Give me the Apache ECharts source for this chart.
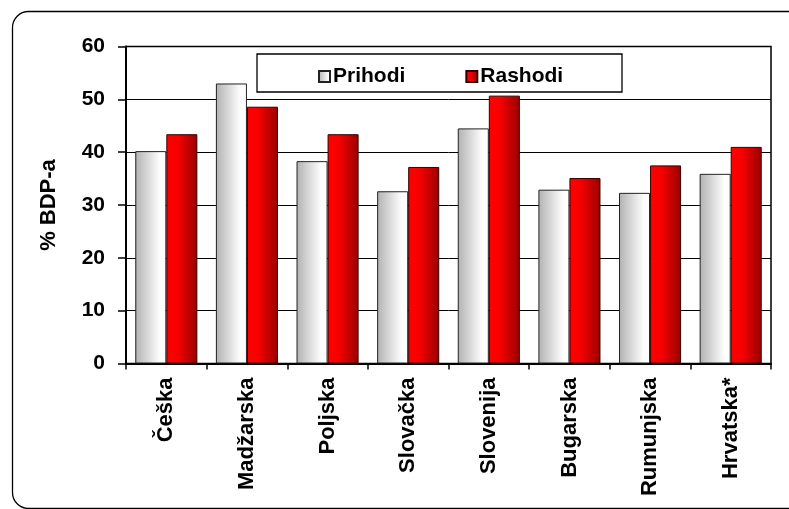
<!DOCTYPE html>
<html><head><meta charset="utf-8">
<script src="https://cdn.jsdelivr.net/npm/echarts@6/dist/echarts.min.js"></script>
<style>html,body{margin:0;padding:0;background:#fff}#c{width:789px;height:509px}</style>
</head><body><div id="c"></div>
<script>
var categories = ['Češka','Madžarska','Poljska','Slovačka','Slovenija','Bugarska','Rumunjska','Hrvatska*'];
var prihodi = [40.2, 53.0, 38.3, 32.6, 44.5, 32.9, 32.3, 35.9];
var rashodi = [43.4, 48.6, 43.4, 37.2, 50.7, 35.1, 37.5, 41.0];
var seriesNames = ['Prihodi','Rashodi'];
var yTicks = [0,10,20,30,40,50,60];

var font = '"Liberation Sans", Arial, sans-serif';
var grayGrad = new echarts.graphic.LinearGradient(0,0,1,0,[
  {offset:0,color:'#b2b2b2'},{offset:0.8,color:'#ffffff'},{offset:1,color:'#ffffff'}]);
var redGrad = new echarts.graphic.LinearGradient(0,0,1,0,[
  {offset:0,color:'#ff0000'},{offset:0.35,color:'#f80000'},{offset:1,color:'#990000'}]);

var chart = echarts.init(document.getElementById('c'), null, {renderer:'canvas'});
chart.setOption({
  animation:false,
  backgroundColor:'#fff',
  graphic:[
    {type:'rect', z:-1, shape:{x:12.5,y:11.5,width:800,height:497,r:16}, style:{fill:'none',stroke:'#000',lineWidth:1.3}},
    {type:'rect', z:5, shape:{x:257,y:54,width:365,height:38}, style:{fill:'#fff',stroke:'#000',lineWidth:1.3}}
  ],
  legend:{
    data:seriesNames, left:313, top:61, z:10,
    icon:'rect', itemWidth:11, itemHeight:11, itemGap:60,
    textStyle:{fontFamily:font, fontWeight:'bold', fontSize:21, color:'#000', padding:[0,0,0,-2]}
  },
  grid:{left:126, right:18, top:46.5, bottom:145.5, show:true, borderColor:'#000', borderWidth:1.5, containLabel:false},
  xAxis:{
    type:'category', data:categories,
    axisLine:{lineStyle:{color:'#000', width:2}},
    axisTick:{show:true, length:6, lineStyle:{color:'#000', width:1.5}},
    axisLabel:{rotate:90, margin:14, interval:0, fontFamily:font, fontWeight:'bold', fontSize:22, color:'#000'}
  },
  yAxis:{
    type:'value', min:yTicks[0], max:yTicks[yTicks.length-1], interval:10,
    name:'% BDP-a', nameLocation:'middle', nameGap:66, nameRotate:90,
    nameTextStyle:{fontFamily:font, fontWeight:'bold', fontSize:22, color:'#000'},
    axisLine:{show:true, lineStyle:{color:'#000', width:2}},
    axisTick:{show:true, length:8, lineStyle:{color:'#000', width:1.5}},
    axisLabel:{margin:21, fontFamily:font, fontWeight:'bold', fontSize:21, color:'#000'},
    splitLine:{show:true, lineStyle:{color:'#000', width:1}}
  },
  series:[
    {name:seriesNames[0], type:'bar', data:prihodi, barGap:'0%', barCategoryGap:'23%',
     itemStyle:{color:grayGrad, borderColor:'#222', borderWidth:1}},
    {name:seriesNames[1], type:'bar', data:rashodi, barGap:'0%', barCategoryGap:'23%',
     itemStyle:{color:redGrad, borderColor:'#300', borderWidth:1}}
  ]
});
</script></body></html>
